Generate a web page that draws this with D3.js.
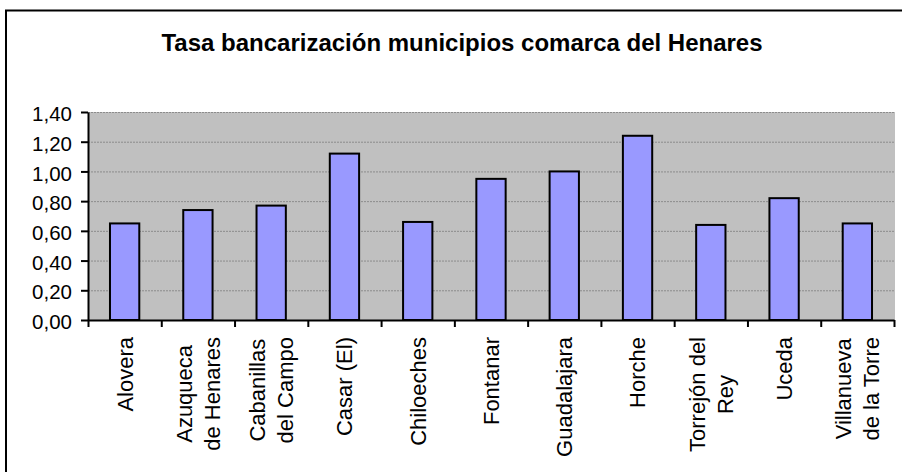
<!DOCTYPE html>
<html>
<meta charset="utf-8">
<head>
<title>Tasa bancarización municipios comarca del Henares</title>
<style>
  body { margin: 0; background: #fff; }
  svg { display: block; font-family: "Liberation Sans", Arial, sans-serif; }
  .axis path, .axis line { fill: none; stroke: #000; stroke-width: 2; }
  .axis text { font-size: 20.5px; fill: #000; }
  .grid line { stroke: #8c8c8c; stroke-width: 1; stroke-dasharray: 2,1; }
  .xlab { font-size: 22px; fill: #000; }
</style>
</head>
<body>
<script src="https://cdn.jsdelivr.net/npm/d3@7"></script>
<script>

var title = "Tasa bancarización municipios comarca del Henares";

var categories = ["Alovera", "Azuqueca de Henares", "Cabanillas del Campo", "Casar (El)",
  "Chiloeches", "Fontanar", "Guadalajara", "Horche", "Torrejón del Rey", "Uceda",
  "Villanueva de la Torre"];

// how the category names wrap under the axis
var labelLines = [["Alovera"], ["Azuqueca", "de Henares"], ["Cabanillas", "del Campo"], ["Casar (El)"],
  ["Chiloeches"], ["Fontanar"], ["Guadalajara"], ["Horche"], ["Torrejón del", "Rey"], ["Uceda"],
  ["Villanueva", "de la Torre"]];

var values = [0.65, 0.74, 0.77, 1.12, 0.66, 0.95, 1.00, 1.24, 0.64, 0.82, 0.65];

var yTicks = [0, 0.2, 0.4, 0.6, 0.8, 1.0, 1.2, 1.4];

var W = 902, H = 472;
var plot = {left: 88, right: 895, top: 112, bottom: 320};

var es = d3.formatLocale({decimal: ",", thousands: ".", grouping: [3], currency: ["", "€"]});
var fmt = es.format(".2f");

var svg = d3.select("body").append("svg")
    .attr("width", W)
    .attr("height", H);

// outer chart frame (runs off the right and bottom of the picture)
svg.append("rect")
    .attr("x", 6).attr("y", 10.5)
    .attr("width", 1200).attr("height", 1200)
    .attr("fill", "none")
    .attr("stroke", "#000")
    .attr("stroke-width", 2);

svg.append("text")
    .attr("x", 462)
    .attr("y", 51)
    .attr("text-anchor", "middle")
    .style("font-size", "24px")
    .style("font-weight", "bold")
    .text(title);

var x = d3.scaleBand().domain(categories).range([plot.left, plot.right - 1]).padding(0);
var xEdges = d3.scaleLinear().domain([0, categories.length]).range([plot.left, plot.right - 1]);
var y = d3.scaleLinear().domain([0, 1.4]).range([plot.bottom, plot.top]);

// plot area
svg.append("rect")
    .attr("x", plot.left).attr("y", plot.top)
    .attr("width", plot.right - plot.left).attr("height", plot.bottom - plot.top)
    .attr("fill", "#c0c0c0");

svg.append("g")
    .attr("class", "grid")
    .selectAll("line")
    .data(yTicks.filter(function(d) { return d > 0; }))
    .enter().append("line")
    .attr("x1", plot.left).attr("x2", plot.right)
    .attr("y1", function(d) { return y(d) + 0.5; })
    .attr("y2", function(d) { return y(d) + 0.5; });

var bw = x.bandwidth() * 0.4;
svg.selectAll(".bar")
    .data(values)
    .enter().append("rect")
    .attr("class", "bar")
    .attr("x", function(d, i) { return x(categories[i]) + (x.bandwidth() - bw) / 2; })
    .attr("width", bw)
    .attr("y", function(d) { return y(d); })
    .attr("height", function(d) { return plot.bottom - y(d); })
    .attr("fill", "#9999ff")
    .attr("stroke", "#000")
    .attr("stroke-width", 2);

var yAxis = d3.axisLeft(y)
    .tickValues(yTicks)
    .tickFormat(fmt)
    .tickSize(7)
    .tickSizeOuter(0)
    .tickPadding(9);

svg.append("g")
    .attr("class", "y axis")
    .attr("transform", "translate(" + plot.left + ",0)")
    .call(yAxis)
    .selectAll("text")
    .attr("dy", "0.42em");

var xAxis = d3.axisBottom(xEdges)
    .tickValues(d3.range(categories.length + 1))
    .tickFormat("")
    .tickSize(7)
    .tickSizeOuter(0);

svg.append("g")
    .attr("class", "x axis")
    .attr("transform", "translate(0," + plot.bottom + ")")
    .call(xAxis);

// rotated, centre-aligned category labels
var lineGap = 28;
var labs = svg.selectAll(".xlab")
    .data(categories)
    .enter().append("g")
    .attr("class", "xlab")
    .attr("transform", function(d) {
      return "translate(" + (x(d) + x.bandwidth() / 2) + "," + 337 + ") rotate(-90)";
    });

labs.each(function(d, i) {
  var g = d3.select(this);
  var lines = labelLines[i];
  var texts = lines.map(function(t, j) {
    return g.append("text")
        .attr("y", (j - (lines.length - 1) / 2) * lineGap)
        .attr("dy", "0.36em")
        .attr("text-anchor", "middle")
        .text(t);
  });
  var longest = d3.max(texts, function(t) { return t.node().getComputedTextLength(); });
  texts.forEach(function(t) { t.attr("x", -longest / 2); });
});

</script>
</body>
</html>
